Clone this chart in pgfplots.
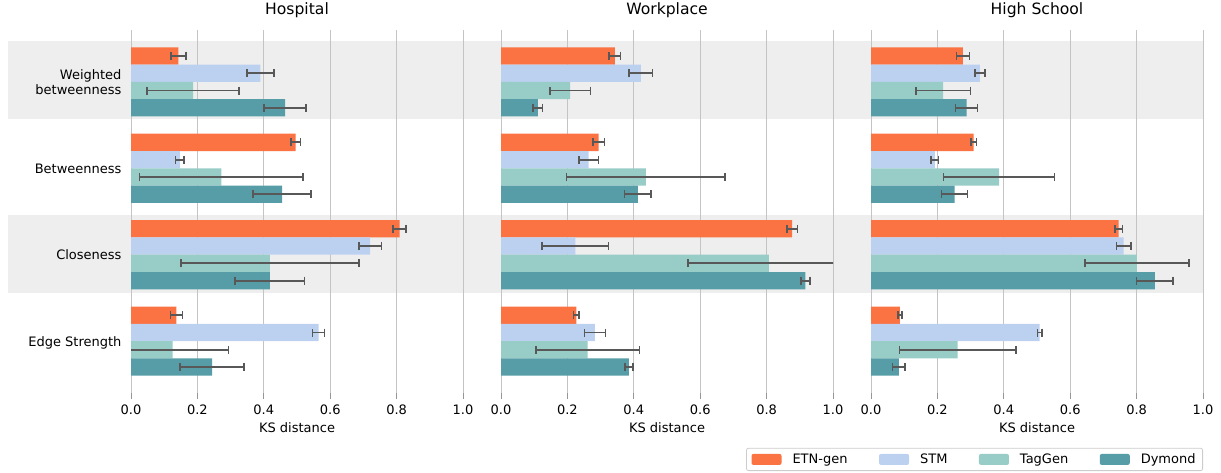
\documentclass[border=0pt]{standalone}
\usepackage{fontspec}
\setmainfont{DejaVu Sans}
\usepackage{pgfplots}
\usepackage{pgfplotstable}
\pgfplotsset{compat=1.18}

\definecolor{etn}{RGB}{251,114,67}
\definecolor{stm}{RGB}{188,208,240}
\definecolor{tag}{RGB}{152,204,198}
\definecolor{dym}{RGB}{86,157,167}
\definecolor{errc}{RGB}{88,88,88}
\definecolor{gridc}{RGB}{196,196,196}
\definecolor{tickc}{RGB}{150,150,150}
\definecolor{band}{RGB}{238,238,238}
\definecolor{legc}{RGB}{204,204,204}

% KS distance (mean and spread) per metric; rows: 0 weighted betweenness,
% 1 betweenness, 2 closeness, 3 edge strength
\pgfplotstableread{
row etn   etne  stm   stme  tag   tage  dym   dyme
0   0.143 0.023 0.390 0.040 0.187 0.139 0.464 0.063
1   0.496 0.014 0.147 0.013 0.272 0.246 0.455 0.087
2   0.809 0.020 0.720 0.034 0.418 0.268 0.418 0.104
3   0.137 0.018 0.565 0.018 0.125 0.168 0.244 0.096
}\hospital
\pgfplotstableread{
row etn   etne  stm   stme  tag   tage  dym   dyme
0   0.343 0.017 0.421 0.035 0.208 0.061 0.111 0.014
1   0.294 0.017 0.264 0.029 0.436 0.238 0.412 0.040
2   0.877 0.016 0.224 0.100 0.807 0.244 0.917 0.013
3   0.227 0.008 0.283 0.031 0.261 0.156 0.385 0.012
}\workplace
\pgfplotstableread{
row etn   etne  stm   stme  tag   tage  dym   dyme
0   0.277 0.019 0.328 0.015 0.217 0.082 0.288 0.033
1   0.309 0.008 0.192 0.012 0.386 0.167 0.252 0.039
2   0.746 0.011 0.761 0.022 0.801 0.157 0.855 0.055
3   0.087 0.006 0.508 0.007 0.261 0.175 0.084 0.019
}\highschool

\pgfplotsset{
  panel/.style={
    scale only axis, width=332pt, height=363pt, anchor=south west,
    xmin=0, xmax=1, ymin=-0.6, ymax=3.6, y dir=reverse,
    xtick={0,0.2,0.4,0.6,0.8,1}, xticklabels={0.0,0.2,0.4,0.6,0.8,1.0},
    xtick pos=left, ytick pos=left,
    tick align=outside, major tick length=6pt,
    xtick style={tickc, line width=1pt}, ytick style={draw=none},
    xticklabel style={yshift=-2.5pt},
    xmajorgrids, grid style={gridc, line width=1pt},
    axis line style={draw=none},
    ytick=\empty,
    xlabel={KS distance},
    xlabel style={at={(axis description cs:0.5,0)}, anchor=base, yshift=-39pt},
    title style={font=\fontsize{15.6}{18}\selectfont, at={(axis description cs:0.5,1)}, anchor=base, yshift=10pt},
    every axis plot/.append style={xbar, bar width=0.2, bar shift=0pt, draw=none,
      error bars/x dir=both, error bars/x explicit,
      error bars/error mark=|,
      error bars/error bar style={errc, line width=1.8pt},
      error bars/error mark options={errc, line width=1.5pt, mark size=4pt}},
  },
}

\newcommand{\panelbars}[1]{%
  \addplot[fill=etn] table[x=etn, y expr=\thisrow{row}-0.3, x error=etne]{#1};
  \addplot[fill=stm] table[x=stm, y expr=\thisrow{row}-0.1, x error=stme]{#1};
  \addplot[fill=tag] table[x=tag, y expr=\thisrow{row}+0.1, x error=tage]{#1};
  \addplot[fill=dym] table[x=dym, y expr=\thisrow{row}+0.3, x error=dyme]{#1};
}

\begin{document}
\begin{tikzpicture}[font=\fontsize{13}{15.6}\selectfont]
\useasboundingbox (0,0) rectangle (1221pt,-472pt);
% alternating row shading across all three panels
\fill[band] (8pt,-41pt) rectangle (1203pt,-119pt);
\fill[band] (8pt,-215pt) rectangle (1203pt,-293pt);

\begin{axis}[panel, at={(131pt,-393pt)}, title={Hospital},
  ytick={0,1,2,3},
  yticklabels={{Weighted\\betweenness},{Betweenness},{Closeness},{Edge Strength}},
  yticklabel style={align=right, text depth=0pt}]
\panelbars{\hospital}
\end{axis}

\begin{axis}[panel, at={(501pt,-393pt)}, title={Workplace}]
\panelbars{\workplace}
\end{axis}

\begin{axis}[panel, at={(871pt,-393pt)}, title={High School},
  legend columns=4,
  legend image code/.code={\fill[#1, draw=none] (0pt,-5.5pt) rectangle (30pt,5.5pt);},
  legend style={at={(axis description cs:1,-0.2149)}, anchor=south east,
    draw=legc, line width=0.8pt, rounded corners=2pt, inner xsep=5pt, inner ysep=3.5pt,
    font=\fontsize{13}{15.6}\selectfont,
    /tikz/every even column/.append style={column sep=29.5pt},
    /tikz/every odd column/.append style={column sep=9pt}}]
\panelbars{\highschool}
\legend{ETN-gen, STM, TagGen, Dymond}
\end{axis}
\end{tikzpicture}
\end{document}
